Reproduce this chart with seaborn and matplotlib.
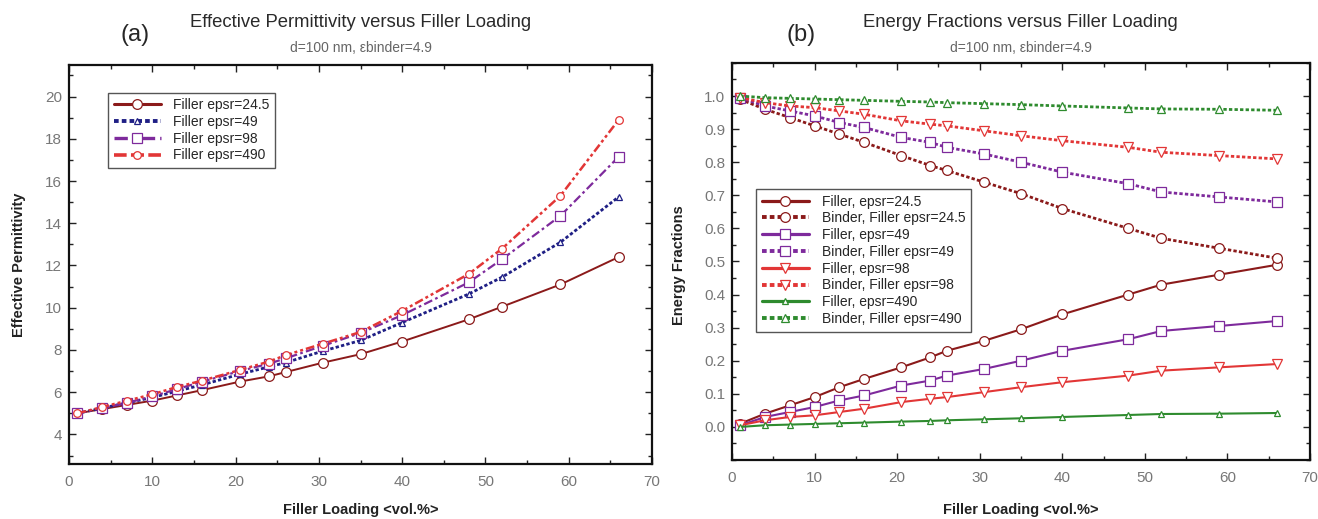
import matplotlib
matplotlib.use("Agg")
import matplotlib.pyplot as plt
from matplotlib.ticker import MultipleLocator
import pandas as pd
import seaborn as sns

# filler loading (vol.%) shared by every curve
loading = [1, 4, 7, 10, 13, 16, 20.5, 24, 26, 30.5, 35, 40, 48, 52, 59, 66]

# (a) effective permittivity
perm_24_5 = [5.0, 5.2, 5.4, 5.6, 5.85, 6.1, 6.5, 6.75, 6.95, 7.4, 7.8, 8.4, 9.45, 10.05, 11.1, 12.4]
perm_49 = [5.0, 5.25, 5.5, 5.75, 6.05, 6.35, 6.85, 7.2, 7.4, 7.95, 8.45, 9.3, 10.65, 11.45, 13.1, 15.25]
perm_98 = [5.0, 5.25, 5.5, 5.8, 6.15, 6.5, 7.0, 7.35, 7.6, 8.2, 8.8, 9.65, 11.2, 12.3, 14.35, 17.15]
perm_490 = [5.0, 5.3, 5.6, 5.9, 6.25, 6.55, 7.05, 7.45, 7.75, 8.3, 8.85, 9.85, 11.6, 12.8, 15.3, 18.9]

# (b) energy fractions
filler_24_5 = [0.01, 0.04, 0.065, 0.09, 0.12, 0.145, 0.18, 0.21, 0.23, 0.26, 0.295, 0.34, 0.40, 0.43, 0.46, 0.49]
binder_24_5 = [0.99, 0.96, 0.935, 0.91, 0.885, 0.86, 0.82, 0.79, 0.775, 0.74, 0.705, 0.66, 0.60, 0.57, 0.54, 0.51]
filler_49 = [0.005, 0.03, 0.045, 0.06, 0.08, 0.095, 0.125, 0.14, 0.155, 0.175, 0.20, 0.23, 0.265, 0.29, 0.305, 0.32]
binder_49 = [0.995, 0.97, 0.955, 0.94, 0.92, 0.905, 0.875, 0.86, 0.845, 0.825, 0.80, 0.77, 0.735, 0.71, 0.695, 0.68]
filler_98 = [0.005, 0.02, 0.03, 0.035, 0.045, 0.055, 0.075, 0.085, 0.09, 0.105, 0.12, 0.135, 0.155, 0.17, 0.18, 0.19]
binder_98 = [0.995, 0.98, 0.97, 0.965, 0.955, 0.945, 0.925, 0.915, 0.91, 0.895, 0.88, 0.865, 0.845, 0.83, 0.82, 0.81]
filler_490 = [0.0, 0.005, 0.007, 0.009, 0.011, 0.013, 0.016, 0.018, 0.02, 0.023, 0.026, 0.03, 0.036, 0.039, 0.04, 0.042]
binder_490 = [1.0, 0.995, 0.993, 0.991, 0.989, 0.987, 0.984, 0.982, 0.98, 0.977, 0.974, 0.97, 0.964, 0.961, 0.96, 0.957]

DARKRED = "#8b1a1a"
NAVY = "#1f1f85"
PURPLE = "#7e2a9c"
RED = "#e23636"
GREEN = "#2e8b2e"

sns.set_style("ticks")
plt.rcParams["font.family"] = ["Liberation Sans", "DejaVu Sans"]
plt.rcParams["xtick.direction"] = "in"
plt.rcParams["ytick.direction"] = "in"

fig = plt.figure(figsize=(13.18, 5.19), dpi=100)
ax_a = fig.add_axes([0.0524, 0.106, 0.4423, 0.769])
ax_b = fig.add_axes([0.5554, 0.1137, 0.4385, 0.765])

# label, values, color, marker, markersize, linestyle, linewidth
left_series = [
    ("Filler epsr=24.5", perm_24_5, DARKRED, "o", 7, "-", 1.4),
    ("Filler epsr=49", perm_49, NAVY, "^", 5, (0, (1.2, 0.8)), 2.0),
    ("Filler epsr=98", perm_98, PURPLE, "s", 7, (0, (4, 1.5, 1.2, 1.5)), 1.6),
    ("Filler epsr=490", perm_490, RED, "o", 5.5, (0, (3.5, 1.2, 1.2, 1.2, 1.2, 1.2)), 1.8),
]

right_series = [
    ("Filler, epsr=24.5", filler_24_5, DARKRED, "o", 7, "-", 1.5),
    ("Binder, Filler epsr=24.5", binder_24_5, DARKRED, "o", 7, (0, (1.2, 0.8)), 2.0),
    ("Filler, epsr=49", filler_49, PURPLE, "s", 7, "-", 1.5),
    ("Binder, Filler epsr=49", binder_49, PURPLE, "s", 7, (0, (1.2, 0.8)), 2.0),
    ("Filler, epsr=98", filler_98, RED, "v", 7, "-", 1.5),
    ("Binder, Filler epsr=98", binder_98, RED, "v", 7, (0, (1.2, 0.8)), 2.0),
    ("Filler, epsr=490", filler_490, GREEN, "^", 4.5, "-", 1.5),
    ("Binder, Filler epsr=490", binder_490, GREEN, "^", 6, (0, (1.2, 0.8)), 2.0),
]


def draw_panel(ax, series):
    for label, vals, color, marker, ms, ls, lw in series:
        df = pd.DataFrame({"loading": loading, "value": vals})
        sns.lineplot(data=df, x="loading", y="value", ax=ax, label=label,
                     color=color, marker=marker, markersize=ms,
                     markerfacecolor="white", markeredgecolor=color,
                     markeredgewidth=0.9, linestyle=ls, linewidth=lw)


def style_axes(ax):
    ax.set_xlim(0, 70)
    ax.xaxis.set_major_locator(MultipleLocator(10))
    ax.xaxis.set_minor_locator(MultipleLocator(5))
    ax.tick_params(which="both", top=True, right=True, colors="#222222",
                   labelcolor="#777777", labelsize=11, width=1)
    ax.tick_params(which="major", length=5)
    ax.tick_params(which="minor", length=3)
    ax.tick_params(axis="x", pad=8)
    ax.tick_params(axis="y", pad=5)
    for sp in ax.spines.values():
        sp.set_linewidth(1.6)
        sp.set_color("#111111")
    ax.set_xlabel("")
    ax.set_ylabel("")


def thick_legend(leg):
    # legend lines are drawn heavier than the curves in the original
    for h in leg.legend_handles:
        h.set_linewidth(h.get_linewidth() + 0.8)


draw_panel(ax_a, left_series)
style_axes(ax_a)
ax_a.set_ylim(2.6, 21.5)
ax_a.yaxis.set_major_locator(MultipleLocator(2))
ax_a.yaxis.set_minor_locator(MultipleLocator(1))
ax_a.set_yticks(range(4, 21, 2))
leg_a = ax_a.legend(loc="upper left", bbox_to_anchor=(0.055, 0.948), fontsize=10,
                    frameon=True, fancybox=False, edgecolor="#555555", framealpha=1,
                    handlelength=3.4, labelspacing=0.2, borderpad=0.4,
                    handletextpad=0.9)
thick_legend(leg_a)

draw_panel(ax_b, right_series)
style_axes(ax_b)
ax_b.set_ylim(-0.1, 1.1)
ax_b.yaxis.set_major_locator(MultipleLocator(0.1))
ax_b.yaxis.set_minor_locator(MultipleLocator(0.05))
ax_b.set_yticks([i / 10 for i in range(11)])
ax_b.set_yticklabels([f"{i / 10:.1f}" for i in range(11)])
leg_b = ax_b.legend(loc="upper left", bbox_to_anchor=(0.03, 0.7), fontsize=10,
                    frameon=True, fancybox=False, edgecolor="#555555", framealpha=1,
                    handlelength=3.4, labelspacing=0.2, borderpad=0.4,
                    handletextpad=0.9)
thick_legend(leg_b)

# titles and labels
fig.text(0.2735, 0.957, "Effective Permittivity versus Filler Loading",
         ha="center", va="center", fontsize=13.3, color="#2a2a2a")
fig.text(0.2735, 0.907, "d=100 nm, \u03b5binder=4.9", ha="center",
         va="center", fontsize=10, color="#666666")
fig.text(0.7745, 0.957, "Energy Fractions versus Filler Loading",
         ha="center", va="center", fontsize=13.3, color="#2a2a2a")
fig.text(0.7745, 0.907, "d=100 nm, \u03b5binder=4.9", ha="center",
         va="center", fontsize=10, color="#666666")
fig.text(0.1024, 0.933, "(a)", ha="center", va="center", fontsize=17)
fig.text(0.608, 0.933, "(b)", ha="center", va="center", fontsize=17)

fig.text(0.2735, 0.018, "Filler Loading <vol.%>", ha="center", va="center",
         fontsize=10.5, fontweight="bold", color="#222222")
fig.text(0.7745, 0.018, "Filler Loading <vol.%>", ha="center", va="center",
         fontsize=10.5, fontweight="bold", color="#222222")
fig.text(0.0144, 0.49, "Effective Permittivity", ha="center", va="center",
         rotation=90, fontsize=10.5, fontweight="bold", color="#222222")
fig.text(0.515, 0.49, "Energy Fractions", ha="center", va="center",
         rotation=90, fontsize=10.5, fontweight="bold", color="#222222")

fig.savefig("out.png", dpi=100)
